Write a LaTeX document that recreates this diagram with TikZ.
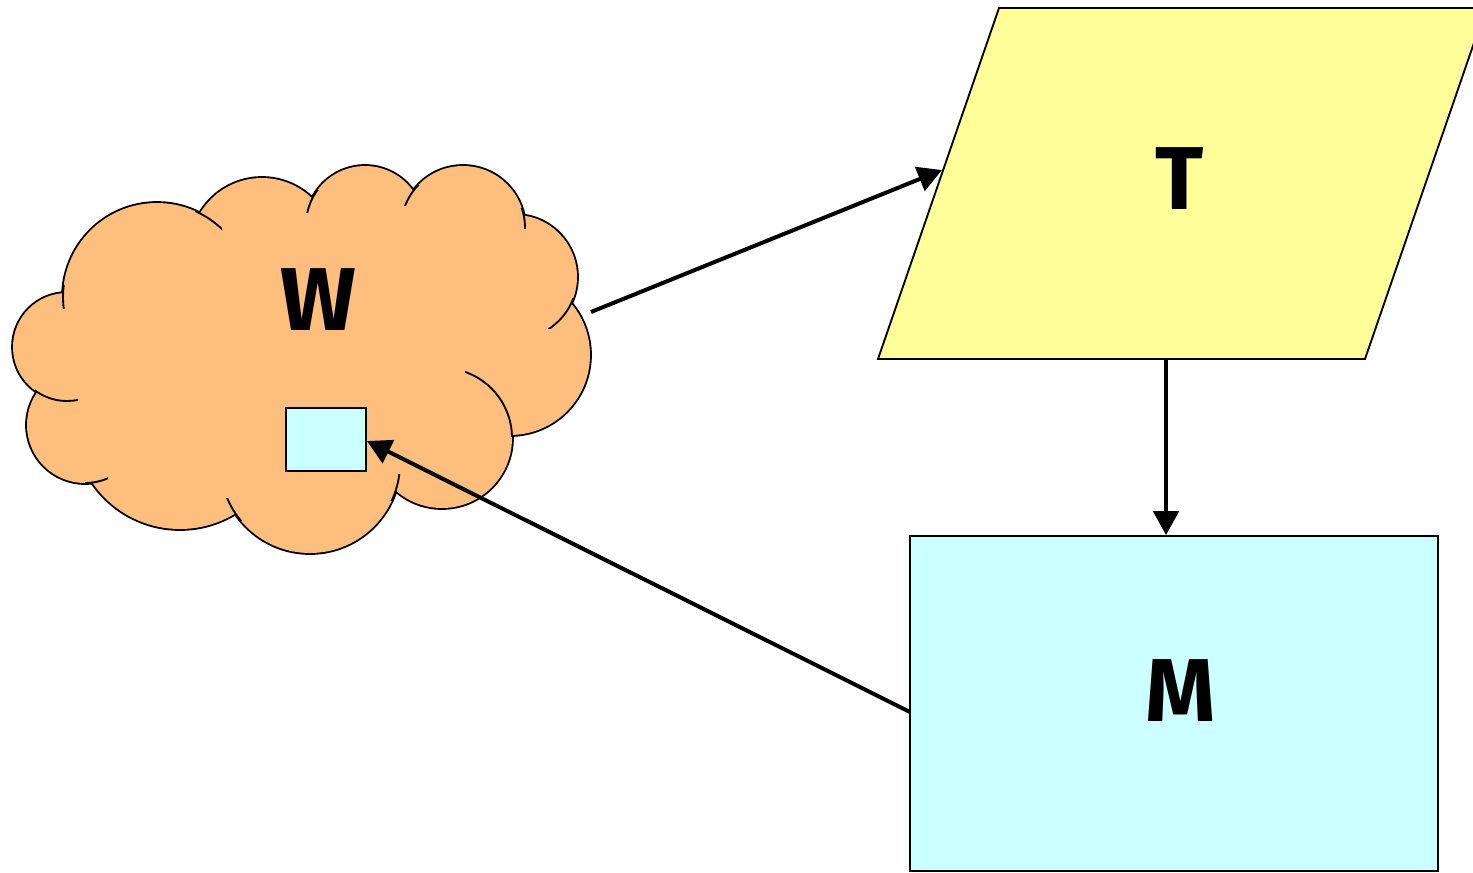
\documentclass[tikz,border=0pt]{standalone}
\usepackage{fontspec}
\setmainfont{Fira Sans}
\usetikzlibrary{arrows.meta}
\definecolor{cloudfill}{RGB}{253,190,126}
\definecolor{tfill}{RGB}{255,255,153}
\definecolor{mfill}{RGB}{204,255,255}
\begin{document}
\begin{tikzpicture}[x=0.75pt,y=-0.75pt,
  outline/.style={draw=black,line width=1.4pt},
  link/.style={line width=3pt,-{Triangle[length=18pt,width=19pt]}},
  letter/.style={font=\fontsize{67}{70}\selectfont\bfseries}]
\useasboundingbox (0,0) rectangle (1473,872);

% cloud: union of round bumps, outer border first, then the fill
\def\bumps{157/297/94, 262/250/72, 365/225/59, 463/228/62, 515/277/62,
  510/355/80, 442/438/70, 310/463/90, 180/423/106, 85/425/58, 67/347/54}
\foreach \cx/\cy/\r in \bumps
  \draw[line width=2.8pt] (\cx,\cy) circle [radius=\r*0.75pt];
\fill[cloudfill] (157,297) -- (262,250) -- (365,225) -- (463,228) -- (515,277)
  -- (510,355) -- (442,438) -- (310,463) -- (180,423) -- (85,425) -- (67,347) -- cycle;
\foreach \cx/\cy/\r in \bumps
  \fill[cloudfill] (\cx,\cy) circle [radius=\r*0.75pt];
% short inner arcs where the bumps overlap
\foreach \cx/\cy/\r/\xa/\ya/\xb/\yb in {
    157/297/94/55/285/75/308,
    157/297/94/195/205/222/230,
    365/225/59/300/190/320/212,
    463/228/62/398/185/422/205,
    463/228/62/515/208/532/228,
    515/277/62/548/298/580/328,
    442/438/70/465/368/520/436,
    310/463/90/390/474/406/500,
    310/463/90/220/498/245/520,
    85/425/58/85/470/108/490,
    67/347/54/35/385/78/405}{
  \begin{scope}
    \clip (\xa,\ya) rectangle (\xb,\yb);
    \draw[line width=1.4pt] (\cx,\cy) circle [radius=\r*0.75pt];
  \end{scope}
}
\node[letter] (W) at (318,300) {W};
\node[outline, fill=mfill, minimum width=60pt, minimum height=47.25pt,
  inner sep=0pt] (sq) at (326,439.5) {};

% parallelogram T
\draw[outline, fill=tfill] (999,8) -- (1486,8) -- (1365,359) -- (878,359) -- cycle;
\node[letter] (T) at (1180,179) {T};

% box M
\node[outline, fill=mfill, minimum width=396pt, minimum height=251.25pt,
  inner sep=0pt] (M) at (1174,703.5) {};
\node[letter] (Mlabel) at (1181,691) {M};

% connectors
\coordinate (cloudout) at (591,312);
\coordinate (tin) at (942,170);
\coordinate (tbot) at (1166,359);
\coordinate (mout) at (910,712);
\coordinate (sqin) at (367,441);
\draw[link] (cloudout) -- (tin);
\draw[link] (tbot) -- (tbot |- M.north);
\draw[link] (mout) -- (sqin);
\end{tikzpicture}
\end{document}
